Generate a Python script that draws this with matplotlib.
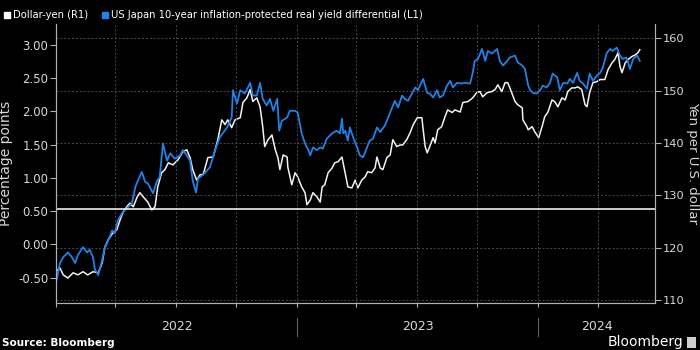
import matplotlib
matplotlib.use('Agg')
import matplotlib.pyplot as plt
import matplotlib.dates as mdates
import matplotlib.ticker as mticker
import matplotlib.transforms as mtransforms
from matplotlib.patches import Rectangle
import pandas as pd

# ---------------- data ----------------
usdjpy_dates = [
    "2022-01-03", "2022-01-07", "2022-01-12", "2022-01-19", "2022-01-27", "2022-02-03",
    "2022-02-11", "2022-02-18", "2022-02-26", "2022-03-06", "2022-03-12", "2022-03-16",
    "2022-03-21", "2022-03-28", "2022-04-03", "2022-04-08", "2022-04-12", "2022-04-18",
    "2022-04-23", "2022-04-28", "2022-05-04", "2022-05-08", "2022-05-13", "2022-05-20",
    "2022-05-26", "2022-05-31", "2022-06-04", "2022-06-10", "2022-06-15", "2022-06-20",
    "2022-06-27", "2022-07-05", "2022-07-12", "2022-07-18", "2022-07-23", "2022-07-27",
    "2022-08-02", "2022-08-07", "2022-08-12", "2022-08-19", "2022-08-27", "2022-09-03",
    "2022-09-09", "2022-09-14", "2022-09-18", "2022-09-24", "2022-09-29", "2022-10-07",
    "2022-10-11", "2022-10-17", "2022-10-22", "2022-10-26", "2022-11-01", "2022-11-06",
    "2022-11-10", "2022-11-13", "2022-11-18", "2022-11-24", "2022-11-29", "2022-12-03",
    "2022-12-06", "2022-12-11", "2022-12-17", "2022-12-18", "2022-12-24", "2022-12-29",
    "2023-01-02", "2023-01-08", "2023-01-13", "2023-01-16", "2023-01-21", "2023-01-25",
    "2023-01-31", "2023-02-05", "2023-02-08", "2023-02-12", "2023-02-17", "2023-02-23",
    "2023-02-27", "2023-03-04", "2023-03-10", "2023-03-15", "2023-03-19", "2023-03-25",
    "2023-03-30", "2023-04-03", "2023-04-09", "2023-04-14", "2023-04-18", "2023-04-24",
    "2023-04-29", "2023-05-02", "2023-05-07", "2023-05-11", "2023-05-17", "2023-05-22",
    "2023-05-26", "2023-06-01", "2023-06-06", "2023-06-10", "2023-06-16", "2023-06-21",
    "2023-06-26", "2023-07-02", "2023-07-09", "2023-07-11", "2023-07-14", "2023-07-17",
    "2023-07-21", "2023-07-26", "2023-07-29", "2023-08-02", "2023-08-08", "2023-08-13",
    "2023-08-17", "2023-08-24", "2023-08-28", "2023-09-05", "2023-09-09", "2023-09-17",
    "2023-09-24", "2023-09-30", "2023-10-05", "2023-10-09", "2023-10-16", "2023-10-23",
    "2023-10-28", "2023-11-01", "2023-11-07", "2023-11-12", "2023-11-16", "2023-11-22",
    "2023-11-27", "2023-12-01", "2023-12-08", "2023-12-09", "2023-12-15", "2023-12-17",
    "2023-12-23", "2023-12-27", "2024-01-02", "2024-01-07", "2024-01-11", "2024-01-16",
    "2024-01-22", "2024-01-26", "2024-01-31", "2024-02-06", "2024-02-11", "2024-02-15",
    "2024-02-21", "2024-02-26", "2024-03-01", "2024-03-07", "2024-03-12", "2024-03-15",
    "2024-03-19", "2024-03-24", "2024-03-30", "2024-04-04", "2024-04-11", "2024-04-16",
    "2024-04-22", "2024-04-26", "2024-05-01", "2024-05-04", "2024-05-07", "2024-05-12",
    "2024-05-16", "2024-05-22", "2024-05-27", "2024-05-31", "2024-06-03",
]
usdjpy_values = [
    115.7, 116.1, 114.8, 114.2, 115.2, 114.8,
    115.4, 114.8, 115.4, 115.2, 117.1, 120.1,
    121.5, 122.8, 123.4, 125.3, 126.6, 127.8,
    128.5, 127.8, 129.7, 130.5, 129.7, 128.7,
    127.2, 127.8, 131.6, 134.3, 134.9, 136.2,
    135.8, 136.8, 138.3, 138.7, 137.2, 134.9,
    132.9, 133.9, 134.0, 137.2, 137.3, 140.6,
    144.4, 143.5, 144.4, 142.9, 144.4, 144.8,
    147.7, 148.6, 150.2, 147.9, 148.6, 146.9,
    143.1, 139.3, 140.6, 141.5, 138.7, 137.2,
    134.9, 137.7, 137.3, 135.4, 132.0, 134.3,
    133.5, 131.6, 130.5, 128.2, 129.1, 130.5,
    129.7, 128.7, 131.6, 132.0, 134.3, 135.2,
    136.2, 136.4, 137.3, 134.1, 131.6, 131.4,
    132.9, 131.4, 132.9, 133.5, 134.5, 134.3,
    135.2, 137.3, 135.2, 134.9, 137.2, 137.7,
    140.6, 139.3, 139.6, 139.6, 140.6, 141.9,
    143.5, 144.8, 144.8, 142.5, 139.3, 138.1,
    139.3, 141.0, 140.0, 142.5, 143.1, 145.0,
    146.3, 145.8, 146.3, 145.9, 147.7, 147.9,
    148.6, 149.6, 149.8, 148.8, 149.6, 149.8,
    150.2, 151.1, 149.8, 151.5, 151.5, 149.6,
    147.9, 147.3, 146.7, 144.4, 143.1, 142.5,
    143.1, 142.1, 141.0, 143.1, 145.0, 145.9,
    148.2, 147.9, 146.9, 148.6, 148.2, 149.8,
    150.5, 150.5, 150.7, 150.2, 147.3, 146.9,
    149.6, 151.5, 151.7, 152.1, 152.1, 154.0,
    155.3, 155.9, 157.2, 154.6, 153.4, 155.3,
    155.9, 156.5, 156.8, 157.2, 157.8,
]

yield_dates = [
    "2022-01-02", "2022-01-07", "2022-01-12", "2022-01-19", "2022-01-25", "2022-01-30",
    "2022-02-03", "2022-02-11", "2022-02-17", "2022-02-21", "2022-02-26", "2022-03-01",
    "2022-03-06", "2022-03-12", "2022-03-16", "2022-03-21", "2022-03-27", "2022-03-31",
    "2022-04-05", "2022-04-11", "2022-04-15", "2022-04-20", "2022-04-26", "2022-05-01",
    "2022-05-05", "2022-05-11", "2022-05-16", "2022-05-20", "2022-05-28", "2022-06-03",
    "2022-06-07", "2022-06-12", "2022-06-18", "2022-06-23", "2022-06-30", "2022-07-08",
    "2022-07-12", "2022-07-18", "2022-07-23", "2022-07-27", "2022-08-01", "2022-08-04",
    "2022-08-12", "2022-08-22", "2022-08-30", "2022-09-06", "2022-09-17", "2022-09-24",
    "2022-09-26", "2022-10-02", "2022-10-07", "2022-10-14", "2022-10-22", "2022-10-26",
    "2022-11-01", "2022-11-06", "2022-11-10", "2022-11-16", "2022-11-21", "2022-11-26",
    "2022-12-02", "2022-12-05", "2022-12-09", "2022-12-17", "2022-12-21", "2022-12-29",
    "2023-01-02", "2023-01-08", "2023-01-13", "2023-01-18", "2023-01-21", "2023-01-25",
    "2023-01-31", "2023-02-05", "2023-02-09", "2023-02-15", "2023-02-23", "2023-03-02",
    "2023-03-07", "2023-03-10", "2023-03-12", "2023-03-15", "2023-03-19", "2023-03-22",
    "2023-03-27", "2023-04-02", "2023-04-06", "2023-04-11", "2023-04-17", "2023-04-21",
    "2023-04-26", "2023-05-02", "2023-05-07", "2023-05-14", "2023-05-19", "2023-05-25",
    "2023-05-29", "2023-06-03", "2023-06-09", "2023-06-13", "2023-06-18", "2023-06-24",
    "2023-06-29", "2023-07-03", "2023-07-11", "2023-07-17", "2023-07-21", "2023-07-26",
    "2023-08-01", "2023-08-05", "2023-08-10", "2023-08-16", "2023-08-21", "2023-08-25",
    "2023-08-31", "2023-09-08", "2023-09-12", "2023-09-20", "2023-09-24", "2023-09-27",
    "2023-10-02", "2023-10-08", "2023-10-13", "2023-10-17", "2023-10-23", "2023-10-31",
    "2023-11-04", "2023-11-09", "2023-11-15", "2023-11-19", "2023-11-27", "2023-12-01",
    "2023-12-08", "2023-12-12", "2023-12-17", "2023-12-20", "2023-12-24", "2023-12-30",
    "2024-01-04", "2024-01-08", "2024-01-14", "2024-01-19", "2024-01-23", "2024-01-30",
    "2024-02-03", "2024-02-08", "2024-02-14", "2024-02-18", "2024-02-23", "2024-02-29",
    "2024-03-04", "2024-03-09", "2024-03-15", "2024-03-19", "2024-03-24", "2024-03-30",
    "2024-04-04", "2024-04-08", "2024-04-14", "2024-04-19", "2024-04-23", "2024-04-29",
    "2024-05-04", "2024-05-08", "2024-05-14", "2024-05-19", "2024-05-24", "2024-05-30",
    "2024-06-03",
]
yield_values = [
    -0.53, -0.28, -0.19, -0.12, -0.19, -0.28,
    -0.16, -0.04, -0.12, -0.08, -0.19, -0.38,
    -0.46, -0.23, -0.04, 0.06, 0.21, 0.17,
    0.37, 0.47, 0.52, 0.56, 0.62, 0.86,
    0.96, 1.09, 0.94, 0.92, 0.77, 0.96,
    1.01, 1.52, 1.26, 1.37, 1.29, 1.34,
    1.42, 1.34, 1.26, 0.96, 0.78, 0.99,
    1.05, 1.16, 1.42, 1.61, 1.76, 1.91,
    2.32, 2.12, 2.32, 2.27, 2.43, 2.24,
    2.24, 2.43, 2.19, 2.09, 2.19, 2.01,
    2.19, 1.71, 1.86, 1.91, 2.01, 2.01,
    1.98, 1.67, 1.52, 1.42, 1.34, 1.46,
    1.42, 1.46, 1.44, 1.59, 1.67, 1.71,
    1.67, 1.89, 1.67, 1.71, 1.56, 1.76,
    1.61, 1.46, 1.34, 1.31, 1.46, 1.56,
    1.59, 1.76, 1.69, 1.79, 1.91, 2.06,
    2.16, 2.06, 2.24, 2.19, 2.16, 2.27,
    2.36, 2.32, 2.49, 2.28, 2.27, 2.21,
    2.32, 2.21, 2.24, 2.39, 2.46, 2.36,
    2.43, 2.42, 2.43, 2.42, 2.58, 2.76,
    2.79, 2.94, 2.76, 2.91, 2.87, 2.94,
    2.76, 2.69, 2.76, 2.81, 2.84, 2.74,
    2.69, 2.64, 2.39, 2.32, 2.28, 2.27,
    2.32, 2.39, 2.36, 2.43, 2.57, 2.51,
    2.32, 2.43, 2.42, 2.49, 2.43, 2.58,
    2.46, 2.42, 2.34, 2.57, 2.46, 2.54,
    2.58, 2.66, 2.88, 2.94, 2.91, 2.96,
    2.84, 2.79, 2.81, 2.64, 2.79, 2.84,
    2.76,
]

reference_level = 0.535          # white horizontal line (left axis)
year_labels = ["2022", "2023", "2024"]
left_ticks = [-0.5, 0.0, 0.5, 1.0, 1.5, 2.0, 2.5, 3.0]
right_ticks = [110, 120, 130, 140, 150, 160]
legend_labels = ["Dollar-yen (R1)",
                 "US Japan 10-year inflation-protected real yield differential (L1)"]

# ---------------- style ----------------
BG = "black"
BLUE = "#1f82e6"
WHITE = "#f2f2f2"
TXT = "#d8d8d8"
SPINE = "#b0b0b0"
GRID = "#4a4a4a"

x_start = pd.Timestamp("2022-01-01")
x_end = pd.Timestamp("2024-06-26")

fig = plt.figure(figsize=(7, 3.5), dpi=100, facecolor=BG)
ax = fig.add_axes([56 / 700, 47 / 350, 599 / 700, 279 / 350])
ax2 = ax.twinx()
ax.set_zorder(ax2.get_zorder() + 1)
ax.patch.set_visible(False)
ax2.set_facecolor(BG)

ud = pd.to_datetime(usdjpy_dates)
yd = pd.to_datetime(yield_dates)

ax2.plot(ud, usdjpy_values, color=WHITE, lw=1.1, solid_joinstyle="round")
ax.plot(yd, yield_values, color=BLUE, lw=1.3, solid_joinstyle="round")
ax.axhline(reference_level, color="white", lw=1.1)

ax.set_xlim(x_start, x_end)
ax.set_ylim(-0.88, 3.315)
ax2.set_ylim(109.43, 162.7)

# ticks
ax.set_yticks(left_ticks)
ax.yaxis.set_minor_locator(mticker.MultipleLocator(0.25))
ax.yaxis.set_major_formatter(mticker.FormatStrFormatter("%.2f"))
ax2.set_yticks(right_ticks)
ax2.yaxis.set_minor_locator(mticker.MultipleLocator(5))

ax.xaxis.set_major_locator(mdates.MonthLocator(bymonth=[1, 4, 7, 10]))
ax.xaxis.set_minor_locator(mdates.MonthLocator())
ax.xaxis.set_major_formatter(mticker.NullFormatter())

for a in (ax, ax2):
    for s in a.spines.values():
        s.set_color(SPINE)
        s.set_linewidth(0.8)
    a.spines["top"].set_visible(False)
    a.tick_params(colors=SPINE, labelcolor=TXT, labelsize=8.5, width=0.8)
    a.tick_params(which="major", length=4, pad=1.5)
    a.tick_params(which="minor", length=3, width=0.7)
ax2.tick_params(axis="y", labelsize=8.2, pad=1.5)

ax.tick_params(axis="x", which="both", length=3)

# grid: vertical quarterly (from ax), horizontal at right ticks (ax2)
ax.grid(axis="x", which="major", color=GRID, lw=0.7, ls=(0, (2, 2)))
ax2.grid(axis="y", which="major", color=GRID, lw=0.7, ls=(0, (2, 2)))
ax2.xaxis.set_visible(False)

ax.set_ylabel("Percentage points", color=TXT, fontsize=10, labelpad=4)
ax2.set_ylabel("Yen per U.S. dollar", color=TXT, fontsize=9.5, rotation=270,
               va="center")
ax2.yaxis.set_label_coords(1.0625, 0.5)

# year labels and separators
trans = mtransforms.blended_transform_factory(ax.transData, ax.transAxes)
ys = [pd.Timestamp(f"{y}-01-01") for y in year_labels]
for i, lab in enumerate(year_labels):
    s = max(ys[i], x_start)
    e = ys[i + 1] if i + 1 < len(ys) else x_end
    e = min(e, x_end)
    mid = s + (e - s) / 2
    ax.text(mid, -0.083, lab, transform=trans, ha="center", va="center",
            color=TXT, fontsize=9)
for y in ys[1:]:
    ax.plot([y, y], [-0.052, -0.118], transform=trans, color="#606060",
            lw=0.8, clip_on=False)

# legend
fig.patches.append(Rectangle((4 / 700, 1 - 18 / 350), 6 / 700, 6 / 350,
                             transform=fig.transFigure, color="white"))
fig.text(13 / 700, 1 - 15 / 350, legend_labels[0], color="white",
         fontsize=7.2, va="center", ha="left")
fig.patches.append(Rectangle((102 / 700, 1 - 18 / 350), 6 / 700, 6 / 350,
                             transform=fig.transFigure, color=BLUE))
fig.text(111 / 700, 1 - 15 / 350, legend_labels[1], color="white",
         fontsize=7.2, va="center", ha="left")

# footer
fig.text(2 / 700, 1 - 343 / 350, "Source: Bloomberg", color="white",
         fontsize=7.5, fontweight="bold", va="center", ha="left")
fig.text(683 / 700, 1 - 342 / 350, "Bloomberg", color="white",
         fontsize=10, va="center", ha="right")
fig.patches.append(Rectangle((687 / 700, 1 - 348 / 350), 9 / 700, 11 / 350,
                             transform=fig.transFigure, facecolor="#cfcfcf",
                             edgecolor="none"))

fig.savefig("out.png", dpi=100, facecolor=BG)
